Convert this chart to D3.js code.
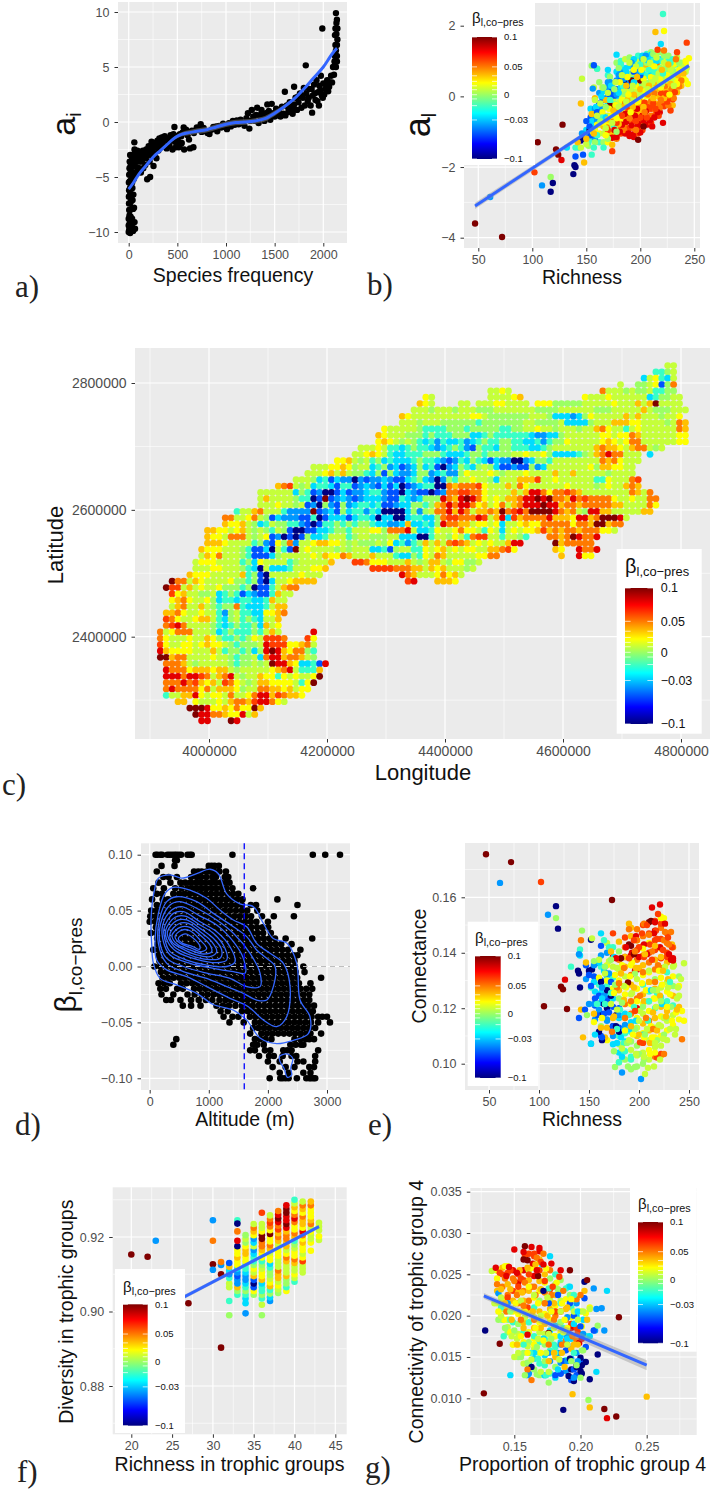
<!DOCTYPE html>
<html>
<head>
<meta charset="utf-8">
<script src="https://cdn.jsdelivr.net/npm/d3@7"></script>
<style>
body { margin: 0; background: #fff; }
text { font-family: "Liberation Sans", Arial, sans-serif; }
.panel-label { font-family: "Liberation Serif", serif; font-size: 31px; fill: #222; }
</style>
</head>
<body>
<svg id="chart" width="710" height="1496"></svg>
<script>
// colour classes used for the beta values
var levelCodes = "nbactglymorRd";
var levelValues = [-0.1, -0.055, -0.04, -0.027, -0.014, 0, 0.009, 0.021, 0.035, 0.05, 0.062, 0.08, 0.1];
var jetColors = ["#00007F", "blue", "#007FFF", "cyan", "#7FFF7F", "yellow", "#FF7F00", "red", "#7F0000"];
var legendLabels = [0.1, 0.05, 0, -0.03, -0.1];
var legendBreaks = [0.1, 0.05, 0.034, 0.024, 0.016, 0.009, 0, -0.005, -0.013, -0.03, -0.1];

// a) species frequency, a_i
var aPoints = [0,-10,5,-9.8,15,-10.1,30,-9.9,45,-9.9,65,-9.7,0,-9.4,10,-9.2,25,-9.5,40,-9.2,60,-9.1,0,-8.8,8,-8.5,20,-8.6,35,-8.8,5,-8,15,-8,30,-7.9,45,-7.9,55,-7.8,3,-7.4,12,-7.4,25,-7.2,40,-7.1,2,-6.8,10,-6.7,20,-6.6,30,-6.7,48,-6.6,4,-6.2,14,-6,24,-6.1,38,-6,2,-5.5,10,-5.4,22,-5.3,35,-5.5,50,-5.2,5,-4.8,15,-4.7,28,-4.8,45,-4.6,70,-4.8,95,-4.5,8,-4.2,20,-4,35,-4.1,55,-4,80,-4.1,110,-4.2,10,-3.6,30,-3.5,50,-3.4,75,-3.6,100,-3.5,130,-3.6,15,-3,35,-3,60,-2.9,85,-3,120,-3,150,-3,60,-2.5,90,-2.6,58,-1.85,
100,-4.3,115,-3.6,125,-4.6,130,-2.9,140,-3.4,150,-4.2,155,-2.7,165,-3.1,170,-3.9,180,-2.5,190,-5.2,195,-3,205,-2.2,215,-3.6,220,-5,225,-2.7,235,-1.8,240,-3.1,250,-2.4,255,-4,265,-2.9,270,-1.9,280,-2.2,285,-3.3,295,-1.7,305,-2.6,315,-1.5,320,-2,330,-2.3,340,-1.4,350,-1.8,360,-2.2,370,-1.3,380,-1.6,390,-2.4,400,-1.5,410,-1.9,420,-2.2,430,-1.2,440,-1.6,450,-2.5,460,-1.1,470,-0.45,475,-1.8,485,-2.3,495,-1.3,505,-1.7,515,-2.3,525,-1.1,535,-2,545,-1.9,555,-0.95,565,-0.5,570,-2.5,580,-1,590,-0.7,605,-1.2,620,-1.6,630,-2.4,650,-0.8,665,-2.3,680,-0.8,700,-0.5,720,-0.7,740,-0.2,750,-0.9,770,-0.55,790,-0.8,810,-1,830,-1.1,850,-0.7,870,-0.45,890,-0.6,910,-0.85,930,-0.35,950,-0.5,970,-0.15,990,-0.45,1010,-0.65,1030,-0.1,1050,-0.4,1070,0.1,1090,-0.25,1110,0.15,1130,-0.2,1150,0.2,1170,-0.1,1190,-0.35,1210,0.35,1225,0.8,1240,-0.6,1250,0.1,1265,1.1,1280,0.5,1295,0.1,1310,0.65,1320,1.3,1335,-0.1,1350,0.5,1365,1.1,1380,0.4,1395,0.1,1410,0.8,1425,1.6,1440,0.5,1455,0.2,1470,1.65,1485,0.8,1500,0.5,1515,1.2,1530,0.6,1545,1,1560,0.5,1575,1.4,1590,0.75,1605,2.75,1610,0.6,1625,1.5,1640,0.9,1655,1.8,1670,1.1,1685,0.75,1700,3.2,1700,1.6,1715,2.2,1730,1.1,1745,1.8,1760,2.6,1775,1.3,1790,2.2,1800,3.1,1810,1.5,1820,5.15,1825,2.6,1840,1.9,1855,3,1870,1.5,1885,0.85,1890,2.4,1905,3.4,1920,2,1930,3.8,1945,2.7,1955,1.5,1960,3.3,1975,4.2,1985,2.4,1990,8.5,2000,3.5,2020,3,2040,3.8,2060,3.2,2080,4.2,2090,3.6,2100,5,2110,4.3,2115,5.5,2120,6,2125,7,2130,5,2135,8,2135,9,2140,6,2130,9.9,2140,9.3,2145,8.5,2145,7.5,2120,7.9,2125,8.5,2140,7,2130,6.5,2140,5.5,
1780,2.4,1850,2.2,1880,3,1910,2.6,1940,1.9,1970,2.9,1995,2.2,2010,2.5,2030,3.4,2050,2.8,2070,3.6,1640,1.3,1690,1.4,1740,2.3,1360,0.7,1440,1,1520,0.9,1100,-0.1,900,-0.4,760,-0.7,670,-1,540,-1.3,510,-2.1,425,-1.7,355,-1.4,300,-2.2,245,-1.9,205,-2.9,175,-3.3,145,-2.6,105,-3,85,-3.6];
var aSmoothX = [0,50,100,175,250,325,400,450,500,550,600,700,800,900,1000,1100,1200,1300,1400,1500,1600,1700,1800,1900,2000,2100,2140];
var aSmoothY = [-6.1,-5.5,-4.8,-4,-3.2,-2.6,-2,-1.6,-1.3,-1.1,-1,-0.85,-0.7,-0.45,-0.2,-0.05,0,0.1,0.3,0.8,1.4,2.1,3,4,5,6.3,6.7];
var aSmoothSe = [0.12,0.1,0.1,0.1,0.1,0.1,0.12,0.15,0.18,0.2,0.22,0.25,0.25,0.25,0.25,0.25,0.25,0.25,0.25,0.25,0.2,0.15,0.1,0.1,0.1,0.12,0.15];

// b) richness, a_l, grouped by colour class
var bCloud = [
["d",47,-3.6,72,-3.98,105,-1.3,128,-0.8,122,-1.5,124,-1.65,190,-0.47,192,0.45,200,0.45,198,-1.23,172,-0.25,203,-0.85],
["R",127,-1.8,174,-1.17,178,-1.15,183,-0.8,189,-1.05,193,-1.08,198,-0.78,203,-0.68,209,-0.68,213,-0.6,221,-0.75,205,-0.42,195,-0.55,186,-0.5,181,-1,200,-1.02,192,-0.82,211,-0.85,216,-0.45,187,-0.72,176,-0.95,197,-0.35],
["r",102,-2.15,174,-1.55,228,-0.4,217,-0.55,222,-0.28,208,-0.3,230,-0.08,200,-0.6,188,-0.33,234,1.25,243,1.52,216,1.32,219,0.1,225,-0.15,204,-0.18,192,-0.25,212,-0.2,183,-0.55,178,-0.75,196,-0.7,224,0.08,232,0.12,206,-0.6,214,-0.35,170,-0.95],
["o",169,-0.88,175,-0.62,185,-0.95,193,-0.4,201,-0.22,210,-0.15,218,-0.32,226,-0.25,231,-0.05,236,0.28,223,0.3,215,0.9,222,1.3,186,-0.2,180,-0.42,199,-0.05,207,0.05,213,0.08,229,0.2,238,0.45,233,1.05,196,-0.95,190,-0.62,204,-0.45,219,-0.1],
["m",145,-0.2,214,1.82,148,-1.87,174,-1.37,163,-0.5,155,-0.5,205,0.9,230,0.05,168,-0.1,180,-0.78,188,-0.1,194,0.05,200,0.2,208,0.3,215,0.2,222,-0.05,228,0.35,235,0.6,240,0.65,212,-0.05,203,-0.3,193,-0.3,184,-0.3,175,-0.4,170,-0.65,187,0.3,197,0.55,220,0.75,226,0.9,142,-1.3,150,-1.2,157,-1.05],
["y",222,1.85,245,1.08,242,1,240,0.52,244,0.35,232,0.92,225,0.6,218,0.5,210,0.55,203,0.5,196,0.3,189,0.05,183,-0.1,177,-0.25,171,-0.35,165,-0.45,160,-0.8,158,-0.95,166,-0.75,173,-0.55,181,0.4,188,0.55,194,0.75,213,0.85,219,0.25,205,0.15,198,-0.15,191,-0.45,178,-0.62,227,0.05,236,0.75,234,0.35,201,0.75,168,-1.1],
["l",146,0.5,157,0.25,158,-0.1,165,0.25,175,-0.05,181,-0.15,185,0.15,191,0.22,197,0.15,204,0.35,211,0.4,217,0.65,224,0.45,230,0.55,238,0.85,243,0.8,228,0.75,222,0.95,215,1.1,209,0.95,203,1.05,196,0.85,190,0.95,183,0.6,177,0.4,170,0.1,163,-0.2,160,-0.55,156,-1,150,-1.35,145,-1.45,168,-0.9,174,-0.75,180,-0.3,187,-0.15,193,0.3,200,0,207,0.2,214,0.5,220,0.35,231,0.3],
["g",117,-2.28,155,0.87,160,0.78,166,0.25,172,0.55,180,0.8,186,0.05,192,0.65,198,0.6,206,0.95,212,1.2,218,0.8,224,0.85,232,0.7,236,0.95,176,0.2,168,-0.3,163,-0.7,158,-1.3,152,-1.4,170,-1.2,178,-1],
["t",221,2.33,155,-1.65,160,0.78,176,-0.85,182,0.9,190,0.6,197,0.7,205,0.6,213,0.7,219,1,228,0.95,221,0.65,208,0.75,200,0.9,184,0.3,172,-0.1,165,-0.6,160,-1.1,143,-1.45,140,-1.45,166,-1.45,152,-1.3,157,-1.45],
["c",219,1.48,178,1.18,170,0.75,194,1.05,202,1.15,210,1.18,155,-0.7,150,-0.95,159,-0.3,164,0,173,0.3,180,0.1,187,0.7,194,0.4,201,0.7,207,1.02,215,1,132,-1.45,168,-0.6],
["a",61,-2.85,109,-2.52,156,0.22,170,0.4,172,0.4,162,-0.4,165,-0.35,178,0.05,185,0.5,192,0.95,198,0.75,205,1.15,160,-0.7,152,-1.05,158,-1.2,146,-1.05,180,0.6],
["b",140,-1.7,147,-1.65,157,0.88,165,-0.05,172,0.05,176,0.02,182,0.5,188,0.3,194,0.7,200,0.6,150,-0.7,153,-0.85,160,-0.45,165,-0.55,154,-1.1],
["n",117,-2.7,119,-2.45,138,-2.2,139,-1.95,140,-2,145,-1.25,148,-1.2,185,0.45,172,-0.3,153,-0.95]
];
// the packed core of the cloud, read column by column: x, then y, class pairs
var bColumns = [
[154,-1.2,"t",-0.9,"a",-0.6,"b",-0.35,"c"],
[158,-1.15,"g",-0.85,"c",-0.6,"a",-0.35,"a",-0.05,"m"],
[162,-1.3,"t",-1.05,"y",-0.8,"l",-0.55,"c",-0.2,"b",0.1,"a",0.4,"g"],
[166,-1.3,"g",-1.05,"l",-0.85,"m",-0.55,"g",-0.3,"a",-0.1,"b",0.15,"c"],
[170,-1.3,"y",-1.05,"g",-0.8,"y",-0.55,"l",-0.2,"c",0,"a",0.25,"a",0.6,"t"],
[174,-1.05,"m",-0.8,"l",-0.55,"g",-0.3,"l",-0.1,"t",0.15,"b",0.35,"c"],
[178,-1.2,"o",-0.9,"y",-0.65,"m",-0.45,"l",-0.2,"g",0,"c",0.2,"b",0.45,"a",0.7,"c",0.95,"g"],
[182,-1.05,"r",-0.85,"o",-0.65,"y",-0.4,"l",-0.2,"g",0.05,"l",0.25,"c",0.4,"n",0.7,"a",1,"t"],
[186,-1.05,"R",-0.85,"o",-0.6,"m",-0.38,"y",-0.15,"l",0.1,"g",0.28,"c",0.55,"b",0.8,"c",1.05,"l"],
[190,-1.12,"R",-0.9,"r",-0.7,"o",-0.5,"y",-0.25,"l",-0.05,"g",0.15,"y",0.38,"a",0.62,"t",0.85,"c",1.1,"g"],
[194,-1.15,"R",-0.9,"o",-0.7,"r",-0.5,"m",-0.3,"y",-0.1,"l",0.12,"g",0.35,"l",0.55,"c",0.8,"a",0.98,"c"],
[198,-1.05,"r",-0.85,"R",-0.65,"o",-0.45,"m",-0.25,"y",-0.05,"l",0.1,"g",0.3,"t",0.5,"c",0.75,"g",1,"l",1.15,"t"],
[202,-0.95,"r",-0.75,"o",-0.55,"R",-0.38,"m",-0.15,"y",0.08,"l",0.28,"g",0.48,"y",0.68,"c",0.85,"g",1.05,"a"],
[206,-0.8,"R",-0.6,"r",-0.4,"o",-0.2,"m",0,"y",0.18,"l",0.38,"g",0.58,"t",0.8,"l",1,"g",1.2,"t"],
[210,-0.75,"r",-0.55,"o",-0.35,"r",-0.12,"m",0.1,"y",0.28,"l",0.48,"g",0.65,"c",0.85,"y",1.05,"t",1.25,"g"],
[214,-0.55,"r",-0.4,"o",-0.2,"m",0,"y",0.18,"l",0.38,"m",0.6,"g",0.8,"l",1,"t",1.2,"y"],
[218,-0.45,"R",-0.22,"o",-0.02,"m",0.2,"y",0.42,"l",0.6,"t",0.82,"y",1.05,"c",1.25,"g"],
[222,-0.2,"o",0,"r",0.18,"m",0.38,"y",0.55,"g",0.78,"l",1,"y",1.15,"g"],
[226,-0.05,"o",0.15,"m",0.33,"y",0.55,"l",0.75,"g",1,"t",1.15,"g"],
[230,-0.25,"m",0.1,"o",0.25,"y",0.45,"l",0.65,"g",0.85,"l",1.05,"t"],
[234,0.12,"m",0.3,"o",0.5,"y",0.7,"l",0.9,"t",1.1,"l"],
[238,0.3,"m",0.55,"y",0.75,"l",0.95,"g"],
[242,0.45,"y",0.7,"l",0.9,"y"]
];
var bFitX = [47, 245];
var bFitY = [-3.1, 0.87];
var bFitSe = [0.09, 0.04];

// c) map cells: row counted from the north, first column, classes ('.' is no cell)
var mapLon0 = 3897500, mapLat0 = 2827500, mapStep = 10000;
var mapRows = [
[0,88,"ll"],[1,86,"ttgl"],[2,84,"clytcl"],[3,80,"l"],[3,83,"gglybgo"],[4,58,"llyl"],[4,77,"olllglgglttgg"],
[5,47,"yl"],[5,58,"llllym"],[5,74,"ylllyllllllctggll"],[6,46,"myl"],[6,53,"ll"],[6,56,"lllyyllll"],[6,66,"yyyggggglllllylllmlmdllll"],
[7,45,"lllgl llgll lgggl lllll lgggg lllll lgggl llllm lgggl ll"],
[8,43,"mylll lllll llyyl ggggg gglll gccca cgyll lllml mlllg lly"],
[9,43,"lllgl llggg gggtg ggggg gllgg gglcc ccgll lmmmy yllll glom"],
[10,40,"yllll lgttt tgggt ggggg ttggl lyllg lllgl lmoyl ltlyl lllll om"],
[11,39,"mylll gggtg tttgg gcctg ttttt tcaac cglll lllyy lyyom lllll lyy"],
[12,39,"ymylg lgtct atcct actgt tggtt cctat ggyll lllym ylyoo lllll lyy"],
[13,36,"lllyl ttctg ttcac tgtab gttcg gtttc ctgll lllll mommy lmool gl"],
[14,35,"llymy ltcct ttggg tccct ggtgg gglly llygc ccctg lmoRo olll. c"],
[15,32,"yymlg ltgct ccctg ttcab atcgt cbcaa nnacg gtlll lllll omoyl ll"],
[16,28,"lllyy mygll ctgac bacgc tbnac gtcgl gcbba bbgac lllll llygm myyll"],
[17,27,"lllym lmlgg tcgbg caacg gacta agyll lylgl llyll llmll mllll lglll l"],
[18,25,"lllgc tbcaa nabaa cabbc tgcan agtll yllgc lllmm mrlly lllll lttyl llor"],
[19,22,"mor lglct tcbtt bacab cbcnb acttn nomoo oryll lmloy lllll lylll lglyl lmom"],
[20,19,"lllll lcgtb annbc baact tabbn cabbn baoor rooyl lllml mRRoy oorom lllll lllom lo"],
[21,19,"lmlll lgttn bdbac abacc cabbt cacgg gRomR dRoyl ylmmo RRdRd oomRo roooo yllyl loo"],
[22,19,"lllyl lglba ngabg acttc tbbac cggtg moRoR Royml yolmo RRRdR Rmoom ooooo mmlll loy"],
[23,15,"tllmo lllta aaadb acbgc ttatc nnnnc gaglo oRmRo lmmom dorRo ddddR omolg RRmml llllmm"],
[24,13,"oolly olgbc aaabb tnbcc cbctt cnccn ncttc cgorr oooRr lmRcr moooo Rmmmy RRmoddd Rl"],
[25,13,"myyml gctlg gttab nbttg tgtgg tccaa cmcct cgRoo mmlyy lycll ymyyo ooooy oomdd moo"],
[26,10,"mmyyl ymlgl gtlgb nnbbc ctggt lllyy goooR lccty llyoy yltyl clyly ymrmo moomo ooyyl"],
[27,10,"myylo oolgl ybanb nbgcc tlllt gllgg gllcc cnntl lgylt orrll tllgt"],[27,68,"oomo dRooR"],
[28,10,"mmmyl llltg abygo allym myylg lgggl gycta tgmlm lorom lylyl lmRR"],[28,69,"dmoooo o"],
[29,9,"myyyl llgtb bcnlt bdlyl lllgl glllc ctbgl lttyl ymlyl yyllm mory"],[29,69,"my"],[29,73,"RooR"],
[30,9,"lmyol llgtb bbcgl lllly lmyyo mlllm llltc cgtyl omlll llyyoo"],[30,70,"m"],[30,73,"Ryy"],
[31,8,"lyyyl llltg cylll ltgll lllm"],[31,35,"rro yyyll lmlgl mmlgy yggl"],
[32,8,"lllyy lllgt cnlcc ctlll yym"],[32,38,"rrrrooomml mymlllgl"],
[33,7,"myyyl llllm tgbnl lllly lll"],[33,43,"Romlllyoym l"],
[34,4,"doolm yllll yggtg bncll ymmmm"],[34,44,"rR"],[34,49,"mmmy"],
[35,3,"drrlm lylly gggtg nbbtl moo"],[36,4,"rymll gglct gtbca bbtml l"],[37,4,"ymoyl lygct tcttc ctmll"],
[38,4,"lmoll mlgtg gotcc ctlmm"],[39,3,"mmoyl lyllt agltt ccyym o"],[40,3,"royll ymmlt cgltg tcllm"],[41,3,"orRol lllgt ctgtt gcmly"],
[42,2,"olyoo olllg ctgtt tgtlm l"],[42,28,"R"],[43,2,"oylll yllmy gttgt gylrr ro"],[43,27,"ry"],
[44,2,"rylly ylymy ylgtg gglRr rr yymol"],[45,2,"Rmyyy ylllm ltggt gcgRd Rmyoo gt"],[46,2,"ddmoo lllly llgtg glcoR Rmoom lg"],
[47,3,"oooml gllll lgtgg lgldR Rmycc tbR"],[48,3,"Roooy mmmym mlgll lllym oRltt tm"],[49,3,"RRRoR Rrolm oRlgl lmyyt ylyll yd"],
[50,3,"oooRo rmyml roylg lmmyy yylty d"],[51,3,"oRooo oyolm mmygl loomm ymlyy"],[52,3,"tllmm Rylyy lolly oRRmr ommy"],
[53,5,"mm"],[53,8,"ylllylmoomrRRoyl"],[54,7,"dddRyymyoyydm"],[55,8,"dRRoomyyRlm"],[56,9,"RR"],[56,14,"dR"]
];

// d) altitude rows, one list per beta value
var dBetaRows = [0.1,0.095,0.09,0.085,0.08,0.075,0.07,0.065,0.06,0.055,0.05,0.045,0.04,0.035,0.03,0.025,0.02,0.015,0.01,0.005,0,-0.005,-0.01,-0.015,-0.02,-0.025,-0.03,-0.035,-0.04,-0.045,-0.05,-0.055,-0.06,-0.065,-0.07,-0.075,-0.08,-0.085,-0.09,-0.095,-0.1];
var dAltRows = [
[100,130,180,210,300,340,380,420,450,490,530,640,680,710,1400,2760,2970,3220],
[430,460],
[420,1000,1050,1100,1170,200],
[120,750,820,880,960,1020,1090,1180,1290],
[230,320,460,700,800,870,960,1060,1120,1270,1330],
[150,350,520,600,690,780,860,940,1030,1110,1200,1290,1350],
[60,240,430,540,640,720,800,880,960,1050,1130,1220,1300,1400,1750],
[120,210,400,500,590,680,770,860,950,1040,1130,1220,1320,1410,1500],
[40,220,310,400,490,580,670,760,850,940,1030,1120,1210,1300,1390,1480,1570,2160],
[120,210,300,390,480,570,660,750,840,930,1020,1110,1200,1290,1380,1470,1560,1710,1800,2500],
[25,120,215,310,400,500,600,690,790,880,980,1080,1170,1270,1360,1460,1560,1650,1820],
[10,105,200,290,385,480,575,670,765,860,955,1050,1145,1240,1335,1430,1525,1620,1715,1900,2100,2440],
[0,95,190,285,380,475,570,665,760,855,950,1045,1140,1235,1330,1425,1520,1615,1710,1805,2000],
[105,200,295,390,485,580,675,770,865,960,1055,1150,1245,1340,1435,1530,1625,1720,1815,1910,2005],
[20,115,210,305,400,495,590,685,780,875,970,1065,1160,1255,1350,1445,1540,1635,1730,1825,1920,2050],
[125,220,315,410,505,600,695,790,885,980,1075,1170,1265,1360,1455,1550,1645,1740,1835,1930,2025,2120,2300,2750],
[135,230,325,420,515,610,705,800,895,990,1085,1180,1275,1370,1465,1560,1655,1750,1845,1940,2035,2130,2225,2400],
[60,155,250,345,440,535,630,725,820,915,1010,1105,1200,1295,1390,1485,1580,1675,1770,1865,1960,2055,2150,2245,2340,2550],
[150,245,340,435,530,625,720,815,910,1005,1100,1195,1290,1385,1480,1575,1670,1765,1860,1955,2050,2145,2240,2335,2430,2500],
[165,260,355,450,545,640,735,830,925,1020,1115,1210,1305,1400,1495,1590,1685,1780,1875,1970,2065,2160,2255,2350,2450],
[80,175,270,365,460,555,650,745,840,935,1030,1125,1220,1315,1410,1505,1600,1695,1790,1885,1980,2075,2170,2265,2360,2455,2600],
[190,285,380,475,570,665,760,855,950,1045,1140,1235,1330,1425,1520,1615,1710,1805,1900,1995,2090,2185,2280,2375,2470,2620],
[215,310,405,500,595,690,785,880,975,1070,1165,1260,1355,1450,1545,1640,1735,1830,1925,2020,2115,2210,2305,2400,2495,2900],
[150,245,340,530,625,720,815,910,1005,1100,1195,1290,1385,1480,1575,1670,1765,1860,1955,2050,2145,2240,2335,2430,2525,2720],
[180,275,465,560,750,845,940,1035,1130,1225,1320,1415,1510,1605,1700,1795,1890,1985,2080,2175,2270,2365,2460,2550,2650,2750],
[200,400,640,760,880,980,1080,1175,1270,1365,1460,1555,1650,1745,1840,1935,2030,2125,2220,2315,2410,2505,2600,2700],
[280,360,520,700,830,950,1060,1180,1280,1375,1470,1565,1660,1755,1850,1945,2040,2135,2230,2325,2420,2515,2610,2700],
[560,700,860,1130,1240,1340,1450,1560,1650,1745,1840,1935,2030,2125,2220,2315,2410,2505,2600,2680,2780],
[1200,1320,1560,1660,1755,1850,1945,2040,2135,2230,2325,2420,2515,2610,2700,2760],
[1250,1400,1500,1695,1790,1885,1980,2075,2170,2265,2360,2455,2550,2645,2740,2850,2920,3000],
[1350,1590,1780,1875,1970,2065,2160,2255,2350,2445,2540,2635,2730,2850,3050],
[1750,1840,1935,2030,2125,2220,2315,2410,2505,2600,2695,2800],
[1700,1890,1985,2080,2175,2270,2365,2460,2555,2650,2720,2900],
[450,1780,1870,1960,2060,2450,2550,2640,2700,2780],
[400,1750,1820,1930,2380,2470,2560,2600],
[1700,1780,1950,2040,2260,2330,2400,2850],
[1850,2020,2100,2250,2400,2480,2800],
[2000,2200,2500,2600,2800],
[2080,2300,2450,2700,2780],
[2200,2350,2600,2720],
[2030,2210,2250,2300,2350,2490,2650,2700,2730,2770,2800]
];
var dVline = 1600;
var dContours = [
[23,0.043,79,0.068,147,0.079,344,0.082,541,0.079,795,0.083,1021,0.087,1162,0.083,1303,0.065,1528,0.056,1754,0.0535,1923,0.0386,2092,0.025,2318,0.021,2487,0.003,2544,-0.03,2713,-0.045,2685,-0.06,2431,-0.066,2149,-0.069,1867,-0.064,1641,-0.048,1416,-0.039,1077,-0.034,795,-0.024,457,-0.0165,175,-0.0106,62,0.003,34,0.02],
[147,0.0475,259,0.0654,400,0.0708,682,0.0684,964,0.061,1190,0.0505,1416,0.0416,1641,0.0356,1810,0.0207,2036,0.0118,2262,0.0028,2375,-0.018,2318,-0.0449,2149,-0.0538,1923,-0.0478,1669,-0.036,1359,-0.0285,964,-0.018,626,-0.009,288,-0.003,118,0.0058,90,0.0237],
[164,0.0416,288,0.058,457,0.0624,795,0.058,1077,0.0475,1416,0.0356,1641,0.0267,1810,0.0148,1980,0.0073,2121,0,2092,-0.018,1980,-0.03,1810,-0.03,1585,-0.024,1303,-0.018,964,-0.0106,570,-0.0046,288,0.0028,147,0.0207],
[186,0.0386,344,0.055,513,0.058,852,0.0505,1134,0.0416,1416,0.0297,1698,0.0118,1867,-0.006,1867,-0.018,1641,-0.018,1359,-0.0106,964,-0.006,570,0,288,0.0073,175,0.0207],
[220,0.0371,372,0.0505,541,0.0535,852,0.0451,1134,0.0371,1416,0.0222,1585,0.0073,1613,-0.006,1416,-0.0046,1077,-0.0016,682,0.0028,344,0.0103,231,0.0222],
[243,0.0341,400,0.0475,570,0.049,852,0.04,1134,0.0311,1359,0.0177,1444,0.0043,1303,0,964,0.0013,626,0.0058,344,0.0133,259,0.0237],
[271,0.0326,429,0.044,598,0.0451,852,0.0371,1077,0.0297,1275,0.0162,1303,0.0058,1134,0.0034,795,0.0064,457,0.0133,305,0.0222],
[299,0.0311,457,0.041,626,0.0416,852,0.0341,1077,0.0252,1218,0.0148,1190,0.0073,964,0.0064,682,0.0103,429,0.0171,333,0.0237],
[344,0.0297,485,0.038,654,0.0386,852,0.0311,1049,0.0222,1134,0.0133,1021,0.0088,795,0.0103,541,0.0162,372,0.0222],
[378,0.0282,513,0.035,682,0.035,852,0.0282,1021,0.0192,1049,0.0133,908,0.0112,682,0.0148,485,0.0192,400,0.0237],
[429,0.0267,541,0.0326,682,0.032,852,0.0237,964,0.0162,880,0.0133,682,0.0171,513,0.0207],
[485,0.0252,598,0.0291,739,0.0252,852,0.0177,840,0.0153,711,0.0183,558,0.0207],
[2194,-0.0806,2318,-0.0782,2420,-0.0821,2386,-0.091,2403,-0.097,2329,-0.0991,2273,-0.091,2205,-0.0851]
];

// e) richness, connectance
var eCloud = [
["d",47,0.1755,72,0.1727,173,0.159,105,0.1207,128,0.1197,122,0.1278,124,0.1268,189,0.1293,212,0.1515,190,0.143,182,0.138,195,0.1395],
["R",126,0.1303,213,0.1563,221,0.1574,197,0.146,205,0.143,215,0.147,221,0.142,193,0.14,200,0.1385,208,0.1395,226,0.1505,232,0.1375,187,0.142,230,0.1395,177,0.138,216,0.151,196,0.1335,234,0.1372],
["r",102,0.1655,174,0.147,222,0.1505,228,0.1385,217,0.148,208,0.15,211,0.143,200,0.142,190,0.138,195,0.1445,218,0.145,229,0.1455,233,0.142,224,0.141,205,0.1385,213,0.1375,201,0.1077,222,0.1035,218,0.1022,196,0.119,219,0.154,203,0.147],
["o",142,0.1445,243,0.1088,226,0.1475,232,0.1475,205,0.1505,198,0.1445,190,0.1485,213,0.1405,219,0.1355,225,0.1445,204,0.133,185,0.1345,178,0.1275,210,0.1465,230,0.143,216,0.1295,201,0.1245,192,0.1225,207,0.1165,214,0.1125,225,0.1035,180,0.129,196,0.1405,186,0.1165,173,0.1115],
["m",144,0.1095,166,0.1095,190,0.1505,147,0.1365,142,0.1195,172,0.1405,186,0.1385,200,0.1345,210,0.1295,222,0.1385,229,0.1305,233,0.143,195,0.1275,205,0.1225,214,0.1185,221,0.1245,227,0.117,185,0.123,192,0.1135,200,0.1105,211,0.1075,218,0.112,238,0.1195,155,0.118,162,0.113,182,0.1325,175,0.117,206,0.1395,216,0.1425,224,0.1335,197,0.1345],
["y",211,0.1035,245,0.1155,222,0.1525,225,0.1525,204,0.1415,193,0.1365,183,0.1355,176,0.132,168,0.13,160,0.131,187,0.1275,198,0.1225,207,0.1265,215,0.1235,223,0.1285,231,0.125,237,0.1185,243,0.119,212,0.1135,205,0.1095,194,0.1105,186,0.112,155,0.115,163,0.1165,220,0.1335,228,0.1205,216,0.104,233,0.1155,191,0.1315,203,0.129,175,0.1255,213,0.1095],
["l",245,0.1362,235,0.1355,242,0.1305,229,0.1275,238,0.1235,225,0.1165,217,0.1205,209,0.1225,201,0.119,193,0.1255,185,0.128,178,0.1345,170,0.137,160,0.1375,153,0.1452,210,0.1335,218,0.1265,226,0.135,236,0.1105,231,0.1125,224,0.109,216,0.1075,208,0.1125,200,0.1155,190,0.1085,183,0.1055,206,0.0963,209,0.0985,215,0.099,221,0.1015,205,0.1025,197,0.1035,239,0.1275,220,0.114,166,0.1325,172,0.1215,237,0.1125,178,0.1195],
["g",117,0.1525,143,0.148,175,0.1045,176,0.0988,189,0.099,196,0.0988,200,0.1035,205,0.1015,212,0.1075,218,0.1085,225,0.1105,232,0.1205,228,0.1165,196,0.1125,188,0.1075,222,0.1225,214,0.1265,204,0.1205,196,0.1325,183,0.122,176,0.1285,166,0.135,155,0.137,148,0.1175,172,0.1375,206,0.1105],
["t",141,0.1412,132,0.135,165,0.1445,170,0.142,160,0.1285,152,0.1275,185,0.1045,180,0.1005,185,0.1075,192,0.1025,200,0.1105,209,0.1155,218,0.1255,225,0.1215,231,0.1295,190,0.1175,195,0.1205,178,0.1125,172,0.1255,166,0.1215,210,0.1225,158,0.1215,181,0.1195],
["c",162,0.147,141,0.139,175,0.1385,165,0.1335,160,0.1365,155,0.1295,170,0.1255,176,0.1125,182,0.1095,190,0.1125,197,0.1155,204,0.1105,212,0.1265,223,0.1215,156,0.1105,152,0.1072,163,0.1235,185,0.1175,183,0.1025,178,0.1075],
["a",61,0.1652,109,0.1537,183,0.0968,202,0.0945,152,0.1072,140,0.1395,147,0.1305,155,0.1215,157,0.1175,150,0.1215,160,0.1195,165,0.1245,170,0.1325,175,0.1255,180,0.1175,185,0.1125,155,0.1355,163,0.1275,168,0.1155],
["b",147,0.1355,140,0.1165,162,0.1425,167,0.1325,155,0.1315,152,0.128,160,0.1245,168,0.1225,174,0.1135,158,0.1175,146,0.1195,163,0.1095,170,0.1185,150,0.132,156,0.1235,165,0.118,172,0.1295],
["n",117,0.1568,119,0.1487,152,0.1447,139,0.1335,141,0.1275,140,0.1325,150,0.1335,153,0.134,163,0.1085,177,0.1175,177,0.1135,180,0.1115,165,0.1215,160,0.1115,172,0.1245,168,0.1265,162,0.1295]
];
var eColumns = [
[156,0.116,"a",0.121,"b",0.126,"c",0.131,"a",0.136,"b"],
[162,0.11,"b",0.1135,"g",0.118,"n",0.122,"a",0.1255,"c",0.13,"b",0.135,"t",0.139,"a"],
[168,0.1085,"y",0.113,"m",0.116,"a",0.12,"n",0.124,"b",0.128,"t",0.1315,"c",0.1355,"y",0.14,"a",0.1435,"l"],
[174,0.107,"c",0.11,"a",0.1135,"n",0.1165,"m",0.1205,"b",0.1235,"c",0.127,"y",0.131,"t",0.135,"l",0.1385,"R",0.142,"t"],
[180,0.1005,"l",0.104,"c",0.107,"g",0.11,"t",0.113,"b",0.1165,"c",0.12,"b",0.1235,"g",0.1265,"m",0.13,"y",0.134,"l",0.1375,"o",0.1405,"g",0.144,"m"],
[186,0.1015,"g",0.1045,"t",0.108,"c",0.111,"t",0.114,"a",0.118,"c",0.1215,"o",0.125,"y",0.128,"m",0.1315,"l",0.135,"m",0.1385,"R",0.142,"o",0.1455,"r"],
[192,0.098,"g",0.1015,"t",0.105,"l",0.108,"g",0.1115,"t",0.115,"c",0.118,"o",0.1215,"y",0.125,"l",0.1285,"m",0.132,"o",0.1355,"y",0.139,"R",0.1425,"d",0.146,"m",0.149,"m"],
[198,0.099,"g",0.103,"l",0.1065,"g",0.11,"m",0.113,"l",0.1165,"y",0.12,"R",0.1235,"o",0.127,"y",0.1305,"l",0.134,"R",0.1375,"o",0.141,"r",0.1445,"y",0.1485,"o"],
[204,0.1,"g",0.104,"l",0.1075,"r",0.111,"y",0.1145,"m",0.118,"l",0.1215,"y",0.125,"m",0.1285,"t",0.132,"y",0.1355,"m",0.139,"o",0.1425,"r",0.146,"o",0.15,"r"],
[210,0.1015,"l",0.105,"y",0.1085,"l",0.112,"m",0.1155,"o",0.119,"y",0.1225,"l",0.126,"t",0.1295,"m",0.133,"y",0.1365,"o",0.14,"r",0.1435,"y",0.147,"r",0.151,"d"],
[216,0.1025,"o",0.106,"l",0.1095,"y",0.113,"l",0.1165,"m",0.12,"t",0.1235,"y",0.127,"m",0.1305,"g",0.134,"o",0.1375,"m",0.141,"r",0.1445,"r",0.148,"R",0.1515,"r"],
[222,0.103,"m",0.1065,"l",0.11,"y",0.1135,"l",0.117,"y",0.1205,"m",0.124,"t",0.1275,"l",0.131,"y",0.1345,"o",0.138,"r",0.1415,"m",0.145,"r",0.149,"o",0.153,"y"],
[228,0.1085,"l",0.112,"y",0.1155,"l",0.119,"m",0.1225,"t",0.126,"y",0.1295,"l",0.133,"t",0.1365,"m",0.14,"r",0.1435,"o",0.147,"r"],
[234,0.114,"y",0.1175,"l",0.121,"t",0.1245,"m",0.128,"g",0.1315,"y",0.135,"l",0.138,"R",0.142,"o"],
[240,0.116,"y",0.1205,"m",0.1245,"l",0.128,"y",0.1315,"g"]
];

// f) integer richness in trophic groups: first diversity value and classes going up
var fOutliers = [
["d",20,0.9153],["d",22,0.9147],["a",23,0.919],["d",27,0.9022],["a",30,0.9245],["o",30,0.919],["d",30,0.9127],["a",30,0.9112],["a",31,0.9125],["o",31,0.9133],["d",31,0.91],["d",31,0.8903]
];
var fStacks = [
[32,0.899,"g"],[32,0.9028,"t"],[32,0.9065,"ll"],[32,0.909,"tacmb"],
[33,0.9045,"tgmaabacyymyyn"],[33,0.919,"R"],[33,0.9215,"o"],[33,0.9245,"t"],[33,0.9236,"n"],
[34,0.8995,"a"],[34,0.9022,"c"],[34,0.9035,"ctgtcaacttyymmyglg"],
[35,0.9045,"gybnbmlygttcalcaymol"],
[36,0.899,"g"],[36,0.9018,"l"],[36,0.9035,"tgttcmyylgtyymooddyll"],[36,0.9265,"r"],
[37,0.9028,"acgtmylggtcyylmoyydyorol"],
[38,0.905,"glylmmolllyyylmomroRdRo"],
[39,0.9055,"ytggmlllmoylmmoomRdRRddR"],
[40,0.908,"tlyllmoyylgtmoyyoRoymlt"],
[41,0.9105,"lllrylyymyoRymmoymol"],
[42,0.9163,"y"],[42,0.9185,"yl"],[42,0.9205,"lylomyyyom"],
[43,0.9192,"ly"],[43,0.9218,"lll"]
];
var fFitX = [20, 43];
var fFitY = [0.8965, 0.9228];
var fFitSe = [0.0006, 0.0004];

// g) proportion and connectivity of trophic group 4
var gCloud = [
["d",0.127,0.0106,0.218,0.0087,0.227,0.0078,0.229,0.0198,0.192,0.0255,0.139,0.0166,0.205,0.0243,0.158,0.0284,0.176,0.0179,0.157,0.0268,0.168,0.0248,0.16,0.0267],
["R",0.22,0.0076,0.15,0.028,0.163,0.0283,0.169,0.0282,0.178,0.0263,0.146,0.0259,0.164,0.0263,0.172,0.0262,0.136,0.0258,0.144,0.0248,0.152,0.0252,0.157,0.0277,0.167,0.0255,0.185,0.0255,0.199,0.0167,0.16,0.0177],
["r",0.158,0.0272,0.165,0.0275,0.139,0.0252,0.147,0.0255,0.155,0.0245,0.161,0.025,0.17,0.0265,0.184,0.0247,0.179,0.0235,0.193,0.019,0.145,0.0222,0.153,0.0235,0.198,0.018,0.16,0.021,0.181,0.0205,0.173,0.0242],
["o",0.172,0.0275,0.167,0.027,0.143,0.0245,0.15,0.0242,0.158,0.024,0.163,0.0235,0.137,0.0238,0.152,0.0225,0.166,0.0225,0.178,0.0225,0.187,0.023,0.197,0.022,0.144,0.0205,0.155,0.0195,0.165,0.0195,0.18,0.0195,0.194,0.0175,0.2,0.0225,0.16,0.0135,0.163,0.0122,0.176,0.0165,0.186,0.0165,0.173,0.0215,0.157,0.0212],
["m",0.194,0.0105,0.25,0.0102,0.207,0.0089,0.203,0.023,0.16,0.0258,0.154,0.0255,0.166,0.0262,0.14,0.0232,0.147,0.0232,0.156,0.0228,0.17,0.0232,0.18,0.0215,0.19,0.021,0.175,0.02,0.148,0.0195,0.157,0.0185,0.17,0.0185,0.186,0.0155,0.18,0.0155,0.176,0.0145,0.188,0.0138,0.198,0.0165,0.205,0.0195,0.143,0.0215,0.164,0.0205,0.195,0.0165,0.152,0.0165],
["y",0.137,0.0255,0.143,0.026,0.174,0.0257,0.163,0.0258,0.182,0.024,0.151,0.0215,0.142,0.0195,0.147,0.018,0.155,0.0175,0.165,0.0165,0.172,0.017,0.18,0.0175,0.19,0.0185,0.2,0.0205,0.207,0.021,0.204,0.0203,0.158,0.0205,0.168,0.0215,0.178,0.0205,0.188,0.0195,0.149,0.0165,0.16,0.0155,0.17,0.0155,0.161,0.0235,0.186,0.0215,0.138,0.0205,0.153,0.0205,0.166,0.0185,0.193,0.022],
["l",0.133,0.0254,0.14,0.0222,0.148,0.0208,0.158,0.0198,0.17,0.02,0.18,0.0185,0.145,0.0186,0.152,0.0172,0.16,0.0163,0.168,0.0172,0.176,0.0178,0.187,0.018,0.195,0.0205,0.135,0.0215,0.153,0.0155,0.163,0.0147,0.174,0.0155,0.184,0.0147,0.175,0.0222,0.165,0.0225,0.155,0.0218,0.198,0.0195,0.202,0.0205,0.14,0.02,0.17,0.0132,0.176,0.0132,0.19,0.0165,0.15,0.015,0.148,0.0175,0.185,0.0205,0.207,0.0208],
["g",0.206,0.0098,0.176,0.0119,0.167,0.0129,0.183,0.0232,0.192,0.0225,0.196,0.022,0.138,0.0195,0.143,0.0185,0.15,0.0182,0.16,0.0178,0.167,0.0162,0.173,0.0145,0.16,0.0143,0.155,0.015,0.178,0.0172,0.185,0.0192,0.147,0.0205,0.193,0.0145,0.158,0.0128,0.2,0.0125,0.202,0.0158,0.197,0.014,0.213,0.0188],
["t",0.176,0.0233,0.185,0.0215,0.191,0.0235,0.14,0.021,0.147,0.0195,0.165,0.0175,0.173,0.0172,0.18,0.0165,0.187,0.0185,0.168,0.0148,0.162,0.0155,0.157,0.0165,0.174,0.0128,0.181,0.0155,0.195,0.0225,0.205,0.0175,0.142,0.0175,0.195,0.0155],
["c",0.177,0.0272,0.202,0.0195,0.171,0.0262,0.147,0.0128,0.173,0.0128,0.178,0.0205,0.172,0.0172,0.165,0.0155,0.161,0.0138,0.185,0.0175,0.19,0.0172,0.195,0.019,0.22,0.023,0.212,0.0132,0.198,0.0205,0.192,0.0235,0.207,0.0175,0.183,0.0135],
["a",0.138,0.0227,0.16,0.0128,0.21,0.0233,0.218,0.0182,0.211,0.0182,0.216,0.0209,0.212,0.0208,0.195,0.019,0.19,0.0175,0.185,0.0165,0.19,0.0145,0.183,0.0155,0.198,0.0145,0.195,0.0125,0.176,0.0155,0.202,0.0178,0.145,0.0215,0.19,0.0198],
["b",0.203,0.0221,0.2,0.0187,0.192,0.0215,0.195,0.02,0.2,0.014,0.195,0.0135,0.185,0.013,0.19,0.0165,0.187,0.0145,0.204,0.0162,0.193,0.0125,0.181,0.0128,0.21,0.0182,0.176,0.0215,0.183,0.0225],
["n",0.128,0.0182,0.187,0.0086,0.203,0.0241,0.213,0.0153,0.207,0.0123,0.195,0.0121,0.2,0.0133,0.197,0.0138,0.201,0.014,0.204,0.0144,0.2,0.0149,0.191,0.0127,0.172,0.023,0.163,0.0138,0.192,0.0148]
];
var gColumns = [
[0.137,0.0215,"l",0.023,"m",0.0245,"y",0.0255,"r"],
[0.141,0.0195,"t",0.0208,"l",0.022,"y",0.0235,"o",0.025,"r",0.0258,"m"],
[0.145,0.018,"g",0.0195,"l",0.021,"y",0.0225,"o",0.0238,"m",0.0252,"r",0.026,"y"],
[0.149,0.0165,"l",0.018,"l",0.0192,"t",0.0205,"y",0.0218,"m",0.023,"r",0.0245,"o",0.0255,"R"],
[0.153,0.015,"g",0.0165,"y",0.0178,"l",0.019,"g",0.0202,"y",0.0215,"o",0.0228,"m",0.024,"R",0.025,"r"],
[0.157,0.0142,"l",0.0155,"g",0.0168,"y",0.018,"t",0.0192,"m",0.0205,"l",0.0218,"m",0.023,"o",0.0243,"r",0.0255,"R"],
[0.161,0.013,"a",0.0142,"t",0.0155,"l",0.0168,"g",0.018,"y",0.0192,"t",0.0205,"y",0.0218,"o",0.023,"m",0.0243,"m",0.0255,"l",0.0275,"r"],
[0.165,0.0135,"g",0.0148,"c",0.016,"l",0.0172,"y",0.0185,"m",0.0198,"l",0.021,"t",0.0222,"y",0.0235,"o",0.0248,"R",0.026,"o",0.0272,"r"],
[0.169,0.0128,"g",0.0142,"t",0.0155,"g",0.0168,"t",0.018,"l",0.0192,"y",0.0205,"m",0.0218,"g",0.023,"y",0.0242,"m",0.0255,"r",0.0268,"m",0.0278,"R"],
[0.173,0.0128,"c",0.014,"t",0.0152,"c",0.0165,"g",0.0178,"l",0.019,"m",0.0202,"y",0.0215,"l",0.0228,"o",0.024,"y",0.025,"m"],
[0.177,0.013,"t",0.0145,"a",0.0158,"t",0.017,"l",0.0182,"c",0.0195,"y",0.0208,"m",0.022,"l",0.0232,"r",0.0245,"g",0.0255,"o"],
[0.181,0.0125,"c",0.0138,"g",0.015,"m",0.0162,"t",0.0175,"l",0.0188,"c",0.02,"o",0.0212,"y",0.0225,"m",0.0238,"g",0.025,"t"],
[0.185,0.013,"b",0.0143,"a",0.0155,"m",0.0168,"c",0.018,"y",0.0192,"t",0.0205,"r",0.0218,"l",0.023,"t",0.0243,"g"],
[0.189,0.0133,"a",0.0146,"t",0.0158,"b",0.017,"o",0.0182,"l",0.0195,"o",0.0208,"m",0.022,"y",0.0233,"t"],
[0.193,0.0122,"b",0.0135,"n",0.0148,"a",0.016,"m",0.0172,"c",0.0185,"R",0.0198,"y",0.021,"t",0.0222,"g"],
[0.197,0.0128,"b",0.014,"n",0.0155,"a",0.017,"o",0.0185,"r",0.02,"c",0.0215,"a"],
[0.201,0.013,"n",0.0145,"b",0.0158,"g",0.0172,"R",0.0187,"y"]
];
var gFitX = [0.127, 0.25];
var gFitY = [0.0224, 0.014];
var gFitSe = [0.00035, 0.0006];

var svg = d3.select("#chart");
var posOfBeta = d3.scaleLinear().domain([-0.1, -0.03, 0, 0.05, 0.1]).range([0, 0.32, 0.527, 0.755, 1]);
var jet = d3.scaleLinear().domain(jetColors.map((c, i) => i / 8)).range(jetColors);
function levelColor(code) {
    return jet(posOfBeta(levelValues[levelCodes.indexOf(code)]));
}

svg.append("defs").append("linearGradient")
    .attr("id", "jetbar").attr("x1", 0).attr("x2", 0).attr("y1", 1).attr("y2", 0)
    .selectAll("stop").data(jetColors).join("stop")
    .attr("offset", (c, i) => i / 8).attr("stop-color", c => c);

// one ggplot style panel: grey box, grid, axes
function panel(o) {
    var g = svg.append("g");
    var x = d3.scaleLinear().domain(o.xDomain).range(o.xRange);
    var y = d3.scaleLinear().domain(o.yDomain).range(o.yRange);
    g.append("rect").attr("x", o.left).attr("y", o.top).attr("width", o.right - o.left).attr("height", o.bottom - o.top).attr("fill", "#EBEBEB");
    function gridX(vals, w) {
        g.selectAll(null).data(vals).join("line").attr("x1", x).attr("x2", x).attr("y1", o.top).attr("y2", o.bottom).attr("stroke", "#fff").attr("stroke-width", w);
    }
    function gridY(vals, w) {
        g.selectAll(null).data(vals).join("line").attr("y1", y).attr("y2", y).attr("x1", o.left).attr("x2", o.right).attr("stroke", "#fff").attr("stroke-width", w);
    }
    gridX(o.xMinor, 0.6); gridY(o.yMinor, 0.6);
    gridX(o.xTicks, 1.2); gridY(o.yTicks, 1.2);
    var fs = o.tickSize || 12.5;
    var ax = g.append("g").attr("transform", "translate(0," + o.bottom + ")")
        .call(d3.axisBottom(x).tickValues(o.xTicks).tickSize(3.5).tickPadding(3.5).tickFormat(o.xFormat || d3.format("d")));
    var ay = g.append("g").attr("transform", "translate(" + o.left + ",0)")
        .call(d3.axisLeft(y).tickValues(o.yTicks).tickSize(3.5).tickPadding(5).tickFormat(o.yFormat || d3.format("d")));
    [ax, ay].forEach(a => {
        a.select(".domain").remove();
        a.selectAll("line").attr("stroke", "#333").attr("stroke-width", 1);
        a.selectAll("text").attr("fill", "#4D4D4D").style("font-size", fs + "px").style("font-family", "Liberation Sans");
    });
    g.append("text").attr("x", o.xTitleX).attr("y", o.xTitleY).attr("text-anchor", "middle").style("font-size", (o.titleSize || 19.5) + "px").attr("fill", "#111").text(o.xTitle);
    var yt = g.append("text").attr("transform", "translate(" + o.yTitleX + "," + o.yTitleY + ") rotate(-90)").attr("text-anchor", "middle").attr("fill", "#111");
    if (o.yTitle) yt.style("font-size", (o.titleSize || 19.5) + "px").text(o.yTitle);
    else {
        yt.append("tspan").style("font-size", o.yMainSize + "px").text(o.yMain);
        yt.append("tspan").attr("dy", o.ySubDy).style("font-size", o.ySubSize + "px").text(o.ySub);
    }
    return {g: g, x: x, y: y};
}

function legend(o) {
    var g = svg.append("g");
    g.append("rect").attr("x", o.left).attr("y", o.top).attr("width", o.width).attr("height", o.height).attr("fill", "#fff");
    var bar = d3.scaleLinear().domain([0, 1]).range([o.barBottom, o.barTop]);
    g.append("rect").attr("x", o.barX).attr("y", o.barTop).attr("width", o.barW).attr("height", o.barBottom - o.barTop).attr("fill", "url(#jetbar)");
    var dash = o.barW / 5;
    legendBreaks.forEach(v => {
        var yy = bar(posOfBeta(v));
        g.append("line").attr("x1", o.barX).attr("x2", o.barX + dash).attr("y1", yy).attr("y2", yy).attr("stroke", "#fff").attr("stroke-width", 0.7);
        g.append("line").attr("x1", o.barX + o.barW - dash).attr("x2", o.barX + o.barW).attr("y1", yy).attr("y2", yy).attr("stroke", "#fff").attr("stroke-width", 0.7);
    });
    g.selectAll(null).data(legendLabels).join("text")
        .attr("x", o.barX + o.barW + o.labelGap).attr("y", v => bar(posOfBeta(v))).attr("dy", "0.35em")
        .style("font-size", o.labelSize + "px").attr("fill", "#111")
        .text(v => d3.format("")(v).replace("-", "\u2212"));
    var t = g.append("text").attr("x", o.barX).attr("y", o.titleY).attr("fill", "#111");
    t.append("tspan").style("font-size", o.mainSize + "px").text("\u03B2");
    t.append("tspan").attr("dy", 3).style("font-size", o.subSize + "px").text("l,co\u2212pres");
}

// [ "c", x, y, x, y ... ] groups to a draw list, colour classes mixed so they overplot
function cloudPoints(cloud) {
    var out = [];
    var longest = d3.max(cloud, c => c.length);
    for (var i = 1; i < longest; i += 2) {
        cloud.forEach(c => {
            if (i < c.length) out.push({code: c[0], x: c[i], y: c[i + 1]});
        });
    }
    return out;
}
// [ x, y, "c", y, "c" ... ] columns to the same draw list, they go under the loose points
function columnPoints(columns) {
    var out = [];
    columns.forEach(c => {
        for (var i = 1; i < c.length; i += 2) out.push({code: c[i + 1], x: c[0], y: c[i]});
    });
    return out;
}
function drawCloud(p, pts, r) {
    p.g.selectAll(null).data(pts).join("circle")
        .attr("cx", d => p.x(d.x)).attr("cy", d => p.y(d.y)).attr("r", r)
        .attr("fill", d => levelColor(d.code));
}
function pairs(flat) {
    var out = [];
    for (var i = 0; i < flat.length; i += 2) out.push([flat[i], flat[i + 1]]);
    return out;
}
function drawFit(p, xs, ys, ses, curve) {
    var rows = xs.map((v, i) => ({x: v, y: ys[i], s: ses[i]}));
    p.g.append("path").datum(rows).attr("fill", "#999").attr("fill-opacity", 0.45)
        .attr("d", d3.area().x(d => p.x(d.x)).y0(d => p.y(d.y - d.s)).y1(d => p.y(d.y + d.s)).curve(curve));
    p.g.append("path").datum(rows).attr("fill", "none").attr("stroke", "#3366FF").attr("stroke-width", 3)
        .attr("d", d3.line().x(d => p.x(d.x)).y(d => p.y(d.y)).curve(curve));
}
function panelLabel(txt, x, y) {
    svg.append("text").attr("class", "panel-label").attr("x", x).attr("y", y).text(txt);
}

/******** a) ************/
var pa = panel({left: 118, right: 347, top: 2, bottom: 243,
    xDomain: [0, 2000], xRange: [128.7, 323.3], yDomain: [-10, 10], yRange: [232, 12],
    xTicks: [0, 500, 1000, 1500, 2000], xMinor: [250, 750, 1250, 1750],
    yTicks: [-10, -5, 0, 5, 10], yMinor: [-7.5, -2.5, 2.5, 7.5],
    xTitle: "Species frequency", xTitleX: 233, xTitleY: 282,
    yMain: "a", ySub: "i", yMainSize: 34, ySubSize: 20, ySubDy: 6, yTitleX: 75, yTitleY: 124});
pa.g.selectAll(null).data(pairs(aPoints)).join("circle")
    .attr("cx", d => pa.x(d[0])).attr("cy", d => pa.y(d[1])).attr("r", 3.2).attr("fill", "#000");
drawFit(pa, aSmoothX, aSmoothY, aSmoothSe, d3.curveMonotoneX);
panelLabel("a)", 15, 297);

/******** b) ************/
var pb = panel({left: 464, right: 700, top: 3, bottom: 248,
    xDomain: [50, 250], xRange: [478.3, 694.3], yDomain: [-4, 2], yRange: [237.7, 25.7],
    xTicks: [50, 100, 150, 200, 250], xMinor: [75, 125, 175, 225],
    yTicks: [-4, -2, 0, 2], yMinor: [-3, -1, 1],
    xTitle: "Richness", xTitleX: 582, xTitleY: 284,
    yMain: "a", ySub: "l", yMainSize: 36, ySubSize: 20, ySubDy: 6, yTitleX: 430, yTitleY: 125});
drawCloud(pb, columnPoints(bColumns).concat(cloudPoints(bCloud)), 3.2);
drawFit(pb, bFitX, bFitY, bFitSe, d3.curveLinear);
legend({left: 464, top: 3, width: 71, height: 162, barX: 472, barW: 25, barTop: 37, barBottom: 159,
    labelGap: 7, labelSize: 9.5, titleY: 23, mainSize: 15, subSize: 10.5});
panelLabel("b)", 367, 295);

/******** c) ************/
var pc = panel({left: 135, right: 710, top: 348, bottom: 739,
    xDomain: [4000000, 4800000], xRange: [209, 681], yDomain: [2400000, 2800000], yRange: [636.7, 383],
    xTicks: [4000000, 4200000, 4400000, 4600000, 4800000], xMinor: [3900000, 4100000, 4300000, 4500000, 4700000],
    yTicks: [2400000, 2600000, 2800000], yMinor: [2300000, 2500000, 2700000],
    tickSize: 14, titleSize: 22, xFormat: d3.format("d"), yFormat: d3.format("d"),
    xTitle: "Longitude", xTitleX: 423, xTitleY: 780, yTitle: "Latitude", yTitleX: 63, yTitleY: 545});
var mapCells = [];
mapRows.forEach(row => {
    var k = row[1];
    row[2].replace(/ /g, "").split("").forEach(ch => {
        if (ch !== ".") mapCells.push({lon: mapLon0 + k * mapStep, lat: mapLat0 - row[0] * mapStep, code: ch});
        k++;
    });
});
pc.g.selectAll(null).data(mapCells).join("circle")
    .attr("cx", d => pc.x(d.lon)).attr("cy", d => pc.y(d.lat)).attr("r", 3.4)
    .attr("fill", d => levelColor(d.code));
legend({left: 616.7, top: 549, width: 85, height: 184.7, barX: 625, barW: 28, barTop: 588, barBottom: 724,
    labelGap: 7.7, labelSize: 12.5, titleY: 573, mainSize: 20, subSize: 12.9});
panelLabel("c)", 2, 795);

/******** d) ************/
var pd = panel({left: 141, right: 350, top: 843.3, bottom: 1090,
    xDomain: [0, 3000], xRange: [149.7, 327], yDomain: [-0.1, 0.1], yRange: [1078.3, 854.7],
    xTicks: [0, 1000, 2000, 3000], xMinor: [500, 1500, 2500],
    yTicks: [-0.1, -0.05, 0, 0.05, 0.1], yMinor: [-0.075, -0.025, 0.025, 0.075],
    yFormat: d3.format(".2f"),
    xTitle: "Altitude (m)", xTitleX: 245, xTitleY: 1126,
    yMain: "\u03B2", ySub: "l,co\u2212pres", yMainSize: 30, ySubSize: 19, ySubDy: 6, yTitleX: 76, yTitleY: 965});
var dPoints = [];
dBetaRows.forEach((b, i) => dAltRows[i].forEach(a => dPoints.push([a, b])));
pd.g.selectAll(null).data(dPoints).join("circle")
    .attr("cx", d => pd.x(d[0])).attr("cy", d => pd.y(d[1])).attr("r", 3.3).attr("fill", "#000");
pd.g.append("line").attr("x1", 141).attr("x2", 350).attr("y1", pd.y(0)).attr("y2", pd.y(0))
    .attr("stroke", "#BEBEBE").attr("stroke-width", 1).attr("stroke-dasharray", "5,4");
pd.g.selectAll(null).data(dContours).join("path")
    .attr("fill", "none").attr("stroke", "#3366FF").attr("stroke-width", 1.3)
    .attr("d", c => d3.line().x(d => pd.x(d[0])).y(d => pd.y(d[1])).curve(d3.curveCatmullRomClosed.alpha(0.5))(pairs(c)));
pd.g.append("line").attr("x1", pd.x(dVline)).attr("x2", pd.x(dVline)).attr("y1", 843.3).attr("y2", 1090)
    .attr("stroke", "#0000FF").attr("stroke-width", 1.3).attr("stroke-dasharray", "6,4");
panelLabel("d)", 15, 1135);

/******** e) ************/
var pe = panel({left: 465, right: 699, top: 843, bottom: 1090,
    xDomain: [50, 250], xRange: [489, 689], yDomain: [0.1, 0.16], yRange: [1063.7, 897.3],
    xTicks: [50, 100, 150, 200, 250], xMinor: [75, 125, 175, 225],
    yTicks: [0.1, 0.12, 0.14, 0.16], yMinor: [0.11, 0.13, 0.15, 0.17],
    yFormat: d3.format(".2f"),
    xTitle: "Richness", xTitleX: 582, xTitleY: 1126, yTitle: "Connectance", yTitleX: 426, yTitleY: 966});
drawCloud(pe, columnPoints(eColumns).concat(cloudPoints(eCloud)), 3.2);
legend({left: 467.7, top: 921.7, width: 70.6, height: 164.3, barX: 475, barW: 25.7, barTop: 956, barBottom: 1078,
    labelGap: 7, labelSize: 9.5, titleY: 943, mainSize: 15, subSize: 10.8});
panelLabel("e)", 368, 1135);

/******** f) ************/
var pf = panel({left: 112.7, right: 346.7, top: 1187.3, bottom: 1434.3,
    xDomain: [20, 45], xRange: [131.3, 335.3], yDomain: [0.88, 0.92], yRange: [1386, 1237],
    xTicks: [20, 25, 30, 35, 40, 45], xMinor: [22.5, 27.5, 32.5, 37.5, 42.5],
    yTicks: [0.88, 0.9, 0.92], yMinor: [0.87, 0.89, 0.91, 0.93],
    yFormat: d3.format(".2f"),
    xTitle: "Richness in trophic groups", xTitleX: 229.5, xTitleY: 1471, yTitle: "Diversity in trophic groups", yTitleX: 72.7, yTitleY: 1311.7});
var fPoints = fOutliers.map(d => ({code: d[0], x: d[1], y: d[2]}));
fStacks.forEach(col => {
    col[2].split("").forEach((ch, i) => fPoints.push({code: ch, x: col[0], y: col[1] + i * 0.001}));
});
drawCloud(pf, fPoints, 3.3);
drawFit(pf, fFitX, fFitY, fFitSe, d3.curveLinear);
legend({left: 115, top: 1269, width: 70, height: 164, barX: 123, barW: 24.7, barTop: 1304.3, barBottom: 1425.7,
    labelGap: 7.3, labelSize: 9.5, titleY: 1292, mainSize: 15, subSize: 10.8});
panelLabel("f)", 17, 1482);

/******** g) ************/
var pg = panel({left: 470.3, right: 696.7, top: 1188, bottom: 1435,
    xDomain: [0.15, 0.25], xRange: [514.3, 646.7], yDomain: [0.01, 0.035], yRange: [1398.3, 1191.7],
    xTicks: [0.15, 0.2, 0.25], xMinor: [0.125, 0.175, 0.225, 0.275],
    yTicks: [0.01, 0.015, 0.02, 0.025, 0.03, 0.035], yMinor: [0.0075, 0.0125, 0.0175, 0.0225, 0.0275, 0.0325],
    xFormat: d3.format(".2f"), yFormat: d3.format(".3f"),
    xTitle: "Proportion of trophic group 4", xTitleX: 582.5, xTitleY: 1471, yTitle: "Connectivity of trophic group 4", yTitleX: 423, yTitleY: 1311.7});
drawCloud(pg, columnPoints(gColumns).concat(cloudPoints(gCloud)), 3.2);
drawFit(pg, gFitX, gFitY, gFitSe, d3.curveLinear);
legend({left: 630, top: 1188, width: 66.7, height: 163.7, barX: 638, barW: 25, barTop: 1222, barBottom: 1343.3,
    labelGap: 7, labelSize: 9.5, titleY: 1209, mainSize: 15, subSize: 10.8});
panelLabel("g)", 365, 1478);
</script>
</body>
</html>
